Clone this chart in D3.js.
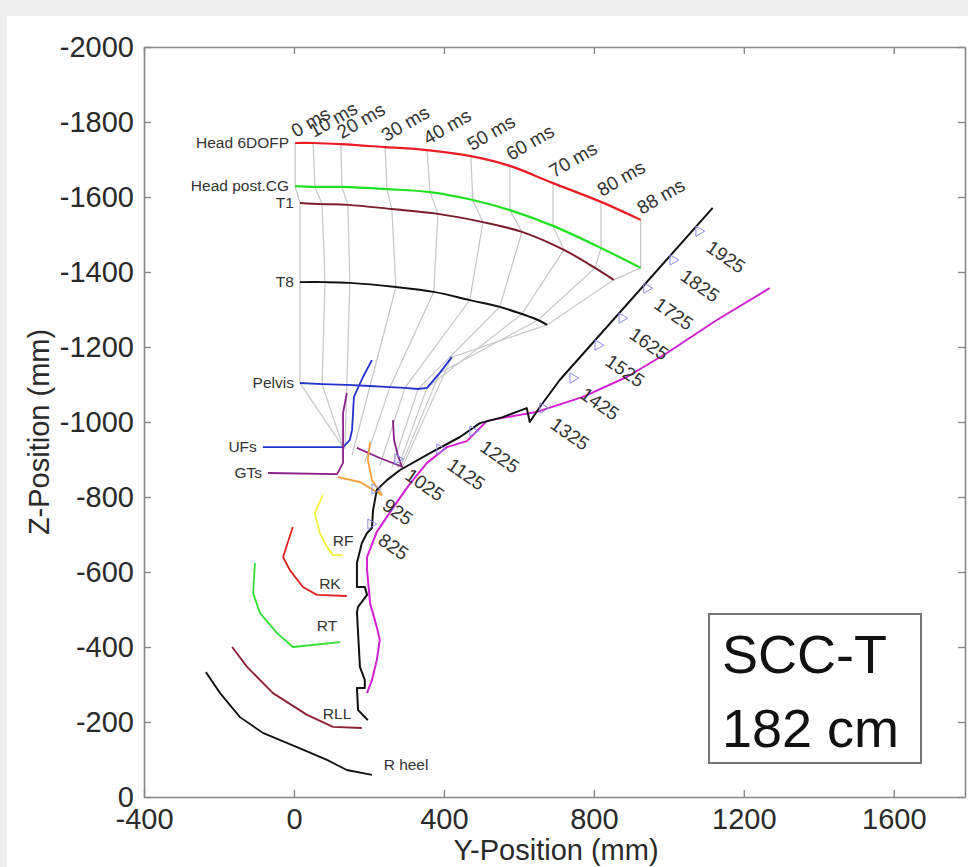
<!DOCTYPE html>
<html><head><meta charset="utf-8">
<script src="https://cdn.jsdelivr.net/npm/d3@7"></script>
<style>
html,body{margin:0;padding:0;background:#efefef;}
svg{display:block;font-family:"Liberation Sans",Arial,Helvetica,sans-serif;}
</style></head><body>
<svg id="chart" width="968" height="867"></svg>
<script>
// ---------- data (mm) ----------
const xTicks = [-400, 0, 400, 800, 1200, 1600];
const yTicks = [-2000, -1800, -1600, -1400, -1200, -1000, -800, -600, -400, -200, 0];
const timeLabels = ["0 ms","10 ms","20 ms","30 ms","40 ms","50 ms","60 ms","70 ms","80 ms","88 ms"];

const head6dofp = [[3,-1744],[51,-1744],[125,-1741],[243,-1733],[355,-1725],[472,-1709],[576,-1683],[691,-1637],[819,-1587],[925,-1539]];
const headCG    = [[3,-1629],[56,-1627],[128,-1627],[248,-1621],[363,-1613],[477,-1592],[576,-1565],[691,-1523],[819,-1464],[925,-1411]];
const t1        = [[16,-1584],[75,-1581],[144,-1579],[261,-1568],[384,-1555],[504,-1533],[608,-1507],[720,-1459],[803,-1411],[853,-1379]];
const t8        = [[16,-1373],[83,-1373],[149,-1371],[272,-1360],[373,-1347],[469,-1325],[549,-1307],[608,-1288],[651,-1272],[675,-1259]];
const pelvis    = [[16,-1104],[75,-1101],[141,-1099],[203,-1096],[256,-1093],[296,-1091],[331,-1088],[355,-1091],[389,-1131],[421,-1173]];
const hipLink   = [[131,-933],[131,-933],[136,-928],[155,-912],[189,-893],[229,-883],[261,-877],[277,-877],[283,-877],[288,-877]];

const ufs   = [[-83,-933],[131,-933],[149,-952],[155,-979],[160,-1067],[184,-1120],[208,-1165]];
const gts   = [[-69,-864],[115,-861],[131,-891],[131,-1024],[141,-1077]];
const gts2  = [[168,-931],[229,-904],[291,-880]];
const gts3  = [[264,-1005],[267,-952],[277,-912],[288,-880]];
const orange1 = [[117,-853],[176,-840],[235,-805]];
const orange2 = [[203,-947],[197,-899],[208,-845],[235,-805]];

const rf    = [[77,-805],[56,-757],[69,-704],[88,-667],[104,-645],[131,-645]];
const rk    = [[-3,-720],[-29,-640],[-11,-605],[24,-560],[61,-539],[141,-536]];
const rt    = [[-104,-624],[-109,-544],[-91,-491],[-45,-437],[-3,-400],[123,-413]];
const rll   = [[-165,-400],[-125,-347],[-56,-277],[35,-219],[104,-187],[181,-184]];
const rheel = [[-235,-333],[-197,-277],[-144,-213],[-83,-171],[8,-133],[88,-99],[141,-72],[208,-59]];

const blackTrace = [[197,-205],[171,-232],[168,-291],[189,-291],[189,-312],[176,-347],[168,-493],[171,-507],[195,-539],[189,-560],[168,-560],[168,-624],[181,-677],[195,-704],[208,-717],[211,-765],[221,-819],[248,-845],[283,-872],[363,-917],[443,-960],[496,-997],[557,-1013],[621,-1037],[629,-1000],[656,-1040],[709,-1112],[1117,-1571]];
const magentaTrace = [[195,-277],[208,-312],[221,-365],[229,-419],[221,-453],[203,-517],[195,-605],[195,-640],[221,-707],[264,-771],[309,-835],[355,-891],[408,-933],[461,-949],[491,-979],[515,-1003],[568,-1013],[648,-1027],[771,-1067],[888,-1120],[995,-1184],[1128,-1272],[1269,-1357]];

const traceLabels = ["825","925","1025","1125","1225","1325","1425","1525","1625","1725","1825","1925"];
const tracePoints = [[205,-728],[216,-821],[277,-901],[389,-928],[477,-976],[664,-1037],[744,-1117],[811,-1205],[875,-1277],[941,-1357],[1011,-1432],[1080,-1509]];

const segLabels = ["RF","RK","RT","RLL","R heel"];
const segLabelPos = [[131,-683],[96,-568],[88,-456],[115,-221],[299,-85]];

// ---------- drawing ----------
const svg = d3.select("#chart");
svg.append("rect").attr("x",7).attr("y",16).attr("width",961).attr("height",851).attr("fill","#fff");

const x = d3.scaleLinear().domain([-400, 1790]).range([144, 965]);
const y = d3.scaleLinear().domain([0, -2000]).range([797, 47]);
const line = d3.line().x(d => x(d[0])).y(d => y(d[1]));
const smooth = d3.line().x(d => x(d[0])).y(d => y(d[1])).curve(d3.curveCatmullRom);

// stick-figure connecting lines
const g = svg.append("g");
timeLabels.forEach((t, i) => {
  const chain = [head6dofp[i], headCG[i], t1[i], t8[i], pelvis[i], hipLink[i]];
  g.append("path").attr("d", line(chain)).attr("fill","none").attr("stroke","#c6c6c6").attr("stroke-width",1.2);
});

function draw(data, color, w, gen) {
  g.append("path").attr("d", (gen||line)(data)).attr("fill","none")
    .attr("stroke", color).attr("stroke-width", w||2).attr("stroke-linejoin","round");
}
draw(head6dofp, "#ee1c24", 2.2, smooth);
draw(headCG, "#22e022", 2.2, smooth);
draw(t1, "#7b1c2a", 2, smooth);
draw(t8, "#111", 2, smooth);
draw(pelvis, "#2233cc", 1.8);
draw(ufs, "#2233cc", 1.8);
draw(gts, "#8a1f8a", 1.8);
draw(gts2, "#8a1f8a", 1.8);
draw(gts3, "#8a1f8a", 1.8);
draw(orange1, "#f4a03a", 1.8);
draw(orange2, "#f4a03a", 1.8);
draw(rf, "#f2f23c", 1.8);
draw(rk, "#e02020", 1.8);
draw(rt, "#33dd33", 1.8);
draw(rll, "#8b2035", 1.8);
draw(rheel, "#111", 1.8);
draw(magentaTrace, "#d21fd2", 2);
draw(blackTrace, "#111", 2);

// triangles + labels along trace
const tri = d3.symbol().type(d3.symbolTriangle).size(45);
tracePoints.forEach((p, i) => {
  g.append("path").attr("d", tri()).attr("fill","none").attr("stroke","#8a8aee").attr("stroke-width",1)
    .attr("transform", `translate(${x(p[0])},${y(p[1])}) rotate(90)`);
  g.append("text").text(traceLabels[i]).attr("font-size",19).attr("fill","#333")
    .attr("transform", `translate(${x(p[0])+6},${y(p[1])+19}) rotate(35)`);
});

// time labels
timeLabels.forEach((t, i) => {
  const p = head6dofp[i];
  g.append("text").text(t).attr("font-size",19).attr("fill","#333")
    .attr("transform", `translate(${x(p[0])+1},${y(p[1])-5}) rotate(-30)`);
});

// series labels on the left
const leftLabels = [["Head 6DOFP", head6dofp],["Head post.CG", headCG],["T1", t1],["T8", t8],["Pelvis", pelvis],["UFs", ufs],["GTs", gts]];
leftLabels.forEach(([name, data]) => {
  g.append("text").text(name).attr("font-size",15.5).attr("fill","#333").attr("text-anchor","end")
    .attr("x", x(data[0][0]) - 6).attr("y", y(data[0][1]) + 5);
});
segLabels.forEach((name, i) => {
  g.append("text").text(name).attr("font-size",15.5).attr("fill","#333").attr("text-anchor","middle")
    .attr("x", x(segLabelPos[i][0])).attr("y", y(segLabelPos[i][1]) + 5);
});

// axes
const axes = svg.append("g");
const fmt = d => String(d);
const styleAxis = sel => {
  sel.select(".domain").attr("stroke","#888").attr("stroke-width",1.6);
  sel.selectAll(".tick line").attr("stroke","#888").attr("stroke-width",1.4);
  sel.selectAll("text").attr("font-size",29).attr("fill","#2a2a2a").attr("font-family","Liberation Sans, Arial, sans-serif");
};
axes.append("g").attr("transform","translate(0,797)")
  .call(d3.axisBottom(x).tickValues(xTicks).tickFormat(fmt).tickSize(-7).tickPadding(11).tickSizeOuter(0)).call(styleAxis);
axes.append("g").attr("transform","translate(0,47)")
  .call(d3.axisTop(x).tickValues(xTicks).tickSize(-7).tickFormat("").tickSizeOuter(0)).call(styleAxis);
axes.append("g").attr("transform","translate(144,0)")
  .call(d3.axisLeft(y).tickValues(yTicks).tickFormat(fmt).tickSize(-7).tickPadding(10).tickSizeOuter(0)).call(styleAxis);
axes.append("g").attr("transform","translate(965,0)")
  .call(d3.axisRight(y).tickValues(yTicks).tickSize(-7).tickFormat("").tickSizeOuter(0)).call(styleAxis);

svg.append("text").text("Y-Position (mm)").attr("x",556).attr("y",860)
  .attr("text-anchor","middle").attr("font-size",29).attr("fill","#2a2a2a");
svg.append("text").text("Z-Position (mm)").attr("transform","translate(49,432) rotate(-90)")
  .attr("text-anchor","middle").attr("font-size",29).attr("fill","#2a2a2a");

// annotation box
svg.append("rect").attr("x",709).attr("y",614).attr("width",212).attr("height",149)
  .attr("fill","#fff").attr("stroke","#777").attr("stroke-width",2);
svg.append("text").text("SCC-T").attr("x",722).attr("y",673).attr("font-size",54).attr("fill","#111");
svg.append("text").text("182 cm").attr("x",722).attr("y",747).attr("font-size",54).attr("fill","#111");
</script>
</body></html>
